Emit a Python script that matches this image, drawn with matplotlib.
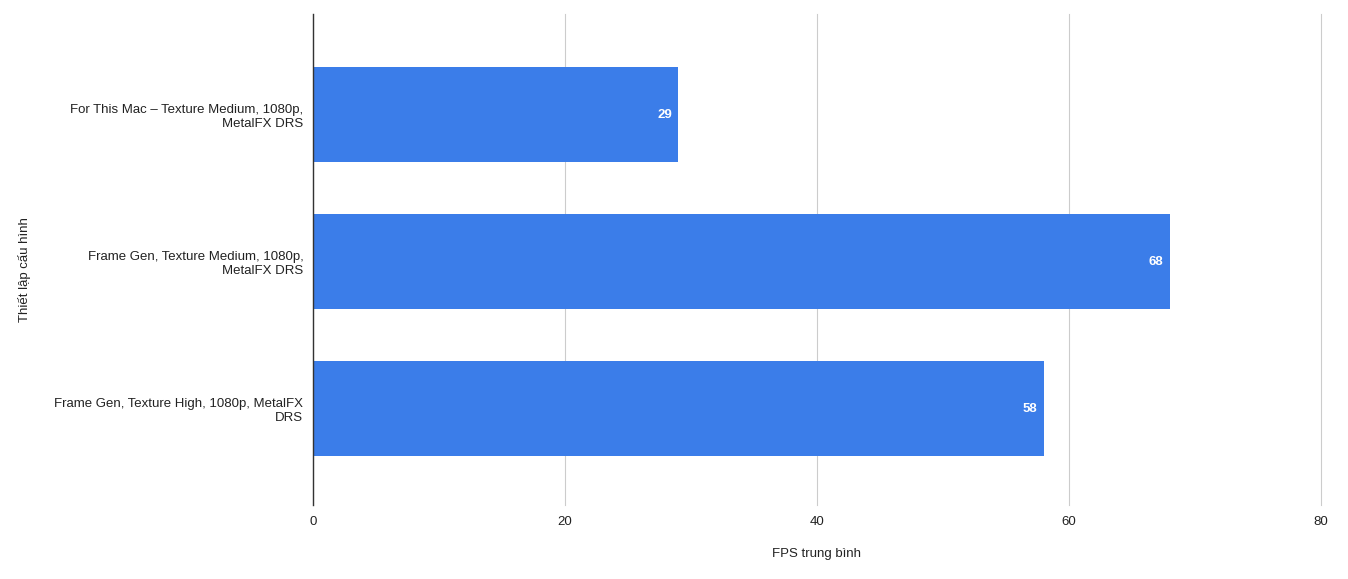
import matplotlib.pyplot as plt

plt.rcParams['font.family'] = ['Liberation Sans', 'DejaVu Sans']

# Data
configs = [
    'For This Mac – Texture Medium, 1080p,\nMetalFX DRS',
    'Frame Gen, Texture Medium, 1080p,\nMetalFX DRS',
    'Frame Gen, Texture High, 1080p, MetalFX\nDRS',
]
fps = [29, 68, 58]
x_ticks = [0, 20, 40, 60, 80]

fig = plt.figure(figsize=(13.48, 5.79), dpi=100)
W, H = 1348, 579
ax = fig.add_axes([313 / W, 1 - 505 / H, (1321 - 313) / W, (505 - 14) / H])

pos = list(range(len(configs)))
bars = ax.barh(pos, fps, height=0.65, color='#3b7de9', zorder=3)

for b, v in zip(bars, fps):
    ax.text(b.get_width() - 0.5, b.get_y() + b.get_height() / 2, str(v),
            ha='right', va='center', color='white', fontsize=9.5,
            fontweight='semibold', zorder=4)

ax.set_xlim(0, 80)
ax.set_ylim(2.655, -0.685)
ax.set_xticks(x_ticks)
ax.set_yticks(pos)
ax.set_yticklabels(configs, fontsize=9.5, color='#222222')
ax.tick_params(axis='x', labelsize=9.5, colors='#222222', length=0, pad=8)
ax.tick_params(axis='y', length=0, pad=7)

ax.grid(axis='x', color='#cccccc', linewidth=0.8, zorder=0)
for gl in ax.get_xgridlines():
    gl.set_clip_on(False)
for s in ['top', 'right', 'bottom']:
    ax.spines[s].set_visible(False)
ax.spines['left'].set_color('#333333')
ax.spines['left'].set_linewidth(1)
ax.spines['left'].set_zorder(5)

ax.set_xlabel('FPS trung bình', fontsize=9.5, color='#222222', labelpad=14)
fig.text(25 / W, 1 - 270 / H, 'Thiết lập cấu hình', rotation=90,
         ha='center', va='center', fontsize=9.5, color='#222222')

fig.savefig('out.png', dpi=100)
